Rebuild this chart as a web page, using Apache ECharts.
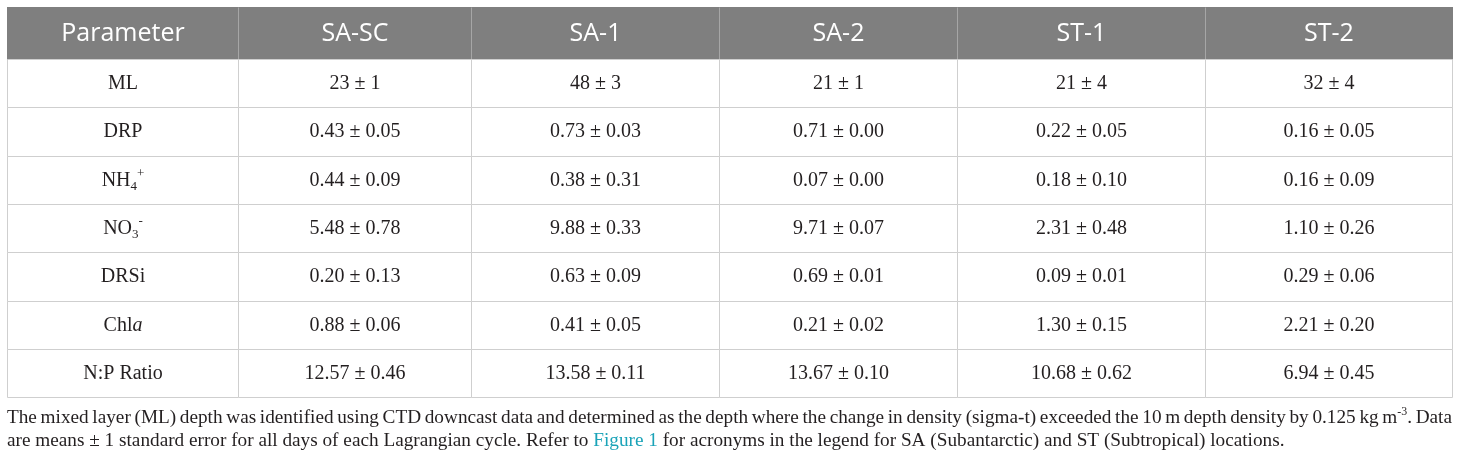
<!DOCTYPE html>
<html>
<head>
<meta charset="utf-8">
<script src="https://cdn.jsdelivr.net/npm/echarts@6/dist/echarts.min.js"></script>
<style>
html, body { margin: 0; padding: 0; background: #fff; }
#main { width: 1460px; height: 459px; }
</style>
</head>
<body>
<div id="main"></div>
<script>
// table content
var sites = ['SA-SC', 'SA-1', 'SA-2', 'ST-1', 'ST-2'];
var parameters = ['ML', 'DRP', 'NH{sub|4}{sup|+}', 'NO{sub|3}{sup|-}', 'DRSi', 'Chl{it|a}', 'N:P Ratio'];
var decimals = [0, 2, 2, 2, 2, 2, 2];

var meanSASC = [23, 0.43, 0.44, 5.48, 0.20, 0.88, 12.57];
var seSASC   = [1, 0.05, 0.09, 0.78, 0.13, 0.06, 0.46];
var meanSA1  = [48, 0.73, 0.38, 9.88, 0.63, 0.41, 13.58];
var seSA1    = [3, 0.03, 0.31, 0.33, 0.09, 0.05, 0.11];
var meanSA2  = [21, 0.71, 0.07, 9.71, 0.69, 0.21, 13.67];
var seSA2    = [1, 0.00, 0.00, 0.07, 0.01, 0.02, 0.10];
var meanST1  = [21, 0.22, 0.18, 2.31, 0.09, 1.30, 10.68];
var seST1    = [4, 0.05, 0.10, 0.48, 0.01, 0.15, 0.62];
var meanST2  = [32, 0.16, 0.16, 1.10, 0.29, 2.21, 6.94];
var seST2    = [4, 0.05, 0.09, 0.26, 0.06, 0.20, 0.45];

var captionLine1 = 'The mixed layer (ML) depth was identified using CTD downcast data and determined as the depth where the change in density (sigma-t) exceeded the 10 m depth density by 0.125 kg m{sup|-3}. Data';
var captionLine2 = 'are means \u00b1 1 standard error for all days of each Lagrangian cycle. Refer to {link|Figure 1} for acronyms in the legend for SA (Subantarctic) and ST (Subtropical) locations.';

var means = [meanSASC, meanSA1, meanSA2, meanST1, meanST2];
var errors = [seSASC, seSA1, seSA2, seST1, seST2];

// layout
var tableLeft = 7, tableTop = 7;
var colWidths = [231, 233, 248, 238, 248, 247];
var headRowH = 52, bodyRowH = 48.3;
var serif = '"Liberation Serif", "DejaVu Serif", serif';
var sans = '"Open Sans", "Noto Sans", sans-serif';

var colEdges = [0];
colWidths.forEach(function(w, i){ colEdges.push(colEdges[i] + w); });
var rowEdges = [0, headRowH];
parameters.forEach(function(p, i){ rowEdges.push(rowEdges[i + 1] + bodyRowH); });
var tableW = colEdges[colEdges.length - 1];
var tableH = rowEdges[rowEdges.length - 1];

function cellText(c, r){
	if (r === 0) return c === 0 ? 'Parameter' : sites[c - 1];
	if (c === 0) return parameters[r - 1];
	var d = decimals[r - 1];
	return means[c - 1][r - 1].toFixed(d) + ' \u00b1 ' + errors[c - 1][r - 1].toFixed(d);
}

var cells = [];
for (var r = 0; r < rowEdges.length - 1; r++) {
	for (var c = 0; c < colWidths.length; c++) {
		cells.push([c, r]);
	}
}

var bodyRich = {
	sub: { fontSize: 13, lineHeight: 13, verticalAlign: 'bottom', fontFamily: serif, fill: '#231f20' },
	sup: { fontSize: 13, lineHeight: 13, verticalAlign: 'top', fontFamily: serif, fill: '#231f20' },
	it: { fontSize: 20, lineHeight: 26, fontStyle: 'italic', fontFamily: serif, fill: '#231f20' }
};

function renderCell(params, api){
	var c = api.value(0), r = api.value(1);
	var p0 = api.coord([colEdges[c], rowEdges[r]]);
	var p1 = api.coord([colEdges[c + 1], rowEdges[r + 1]]);
	var x0 = Math.round(p0[0]) + 0.5, y0 = Math.round(p0[1]) + 0.5;
	var x1 = Math.round(p1[0]) + 0.5, y1 = Math.round(p1[1]) + 0.5;
	var isHead = r === 0;
	var children = [];

	if (isHead) {
		children.push({ type: 'rect', shape: { x: x0 - 0.5, y: y0 - 0.5, width: x1 - x0 + 1, height: y1 - y0 + 1 }, style: { fill: '#7f7f7f' } });
		if (c > 0) {
			children.push({ type: 'line', shape: { x1: x0, y1: y0, x2: x0, y2: y1 }, style: { stroke: '#a6a6a6', lineWidth: 1 } });
		}
	} else {
		children.push({ type: 'rect', shape: { x: x0, y: y0, width: x1 - x0, height: y1 - y0 }, style: { fill: '#fff', stroke: '#cfcfcf', lineWidth: 1 } });
	}

	children.push({
		type: 'text',
		style: {
			text: cellText(c, r),
			x: (x0 + x1) / 2,
			y: (y0 + y1) / 2,
			align: 'center', textAlign: 'center',
			verticalAlign: 'middle', textVerticalAlign: 'middle',
			fontSize: isHead ? 25 : 20,
			lineHeight: isHead ? 30 : 26,
			fontFamily: isHead ? sans : serif,
			fill: isHead ? '#ffffff' : '#231f20',
			rich: isHead ? null : bodyRich
		}
	});
	return { type: 'group', children: children };
}

// caption: fit the font to the second line, justify the first
var ctx = document.createElement('canvas').getContext('2d');
function textWidth(str, size){
	var w = 0;
	str.replace(/\{(\w+)\|([^}]*)\}|([^{]+)/g, function(m, name, inner, plain){
		if (plain) {
			ctx.font = size + 'px ' + serif;
			w += ctx.measureText(plain).width;
		} else {
			ctx.font = (name === 'sup' ? size * 0.62 : size) + 'px ' + serif;
			w += ctx.measureText(inner).width;
		}
		return m;
	});
	return w;
}

var line2Width = 1278;
var capSize = 18 * line2Width / textWidth(captionLine2, 18);
var capLine1Y = 418, capLine2Y = 440.5;
var capRich = {
	sup: { fontSize: capSize * 0.62, lineHeight: capSize * 0.62, verticalAlign: 'top', fontFamily: serif, fill: '#231f20' },
	link: { fontSize: capSize, lineHeight: capSize * 1.3, fontFamily: serif, fill: '#1aa3b8' }
};

function capText(text, x, y){
	return {
		type: 'text', x: x, y: y,
		style: {
			text: text,
			align: 'left', textAlign: 'left',
			verticalAlign: 'middle', textVerticalAlign: 'middle',
			fontSize: capSize, lineHeight: capSize * 1.3,
			fontFamily: serif, fill: '#231f20',
			rich: capRich
		}
	};
}

var captionEls = [];
var words = captionLine1.split(' ');
var wordW = words.map(function(w){ return textWidth(w, capSize); });
var gap = (tableW - wordW.reduce(function(a, b){ return a + b; }, 0)) / (words.length - 1);
var cx = tableLeft;
words.forEach(function(w, i){
	captionEls.push(capText(w, cx, capLine1Y));
	cx += wordW[i] + gap;
});
captionEls.push(capText(captionLine2, tableLeft, capLine2Y));

var chart = echarts.init(document.getElementById('main'));
chart.setOption({
	backgroundColor: '#ffffff',
	animation: false,
	grid: { left: tableLeft, top: tableTop, width: tableW, height: tableH },
	xAxis: { type: 'value', min: 0, max: tableW, show: false },
	yAxis: { type: 'value', min: 0, max: tableH, inverse: true, show: false },
	graphic: { elements: captionEls },
	series: [{
		type: 'custom',
		clip: false,
		silent: true,
		renderItem: renderCell,
		data: cells
	}]
});
</script>
</body>
</html>
